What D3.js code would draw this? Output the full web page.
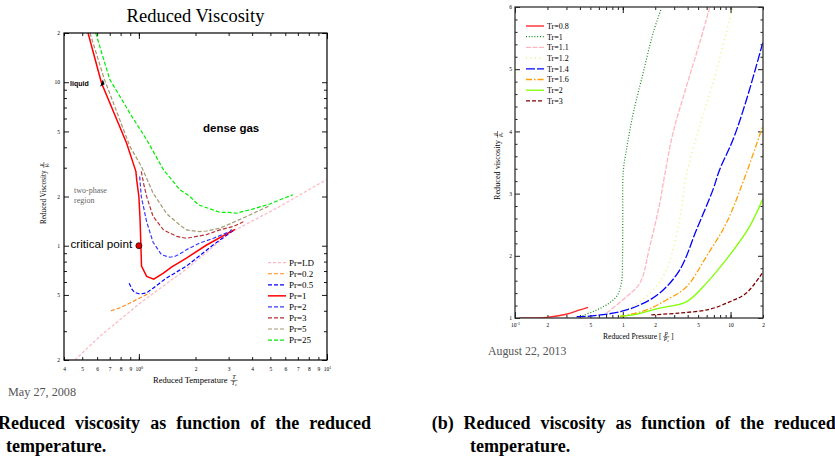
<!DOCTYPE html>
<html><head><meta charset="utf-8">
<script src="https://cdn.jsdelivr.net/npm/d3@7"></script>
<style>body{margin:0;background:#fff} svg{display:block;font-family:"Liberation Serif",serif}</style>
</head><body>
<svg id="c" width="835" height="458"></svg>
<script>
// ---------------- DATA: left panel (Reduced temperature Tr, reduced viscosity) ----------------
const prLD  = [[0.457,0.2],[0.62,0.279],[1.0,0.44],[1.79,0.72],[3.05,1.2],[5.62,1.74],[9.9,2.53]];
const pr02  = [[0.71,0.4],[0.79,0.416],[0.896,0.446],[1.01,0.479],[1.14,0.513]];
const pr05  = [[0.888,0.59],[0.92,0.54],[0.95,0.518],[1.01,0.506],[1.1,0.515],[1.19,0.55],[1.29,0.59],[1.4,0.634],[1.79,0.75],[2.45,1.0],[3.05,1.2],[3.24,1.25]];
const pr1   = [[0.537,20],[0.633,9.9],[0.86,4.25],[0.964,2.85],[0.975,2.5],[1.0,2.0],[1.015,1.44],[1.025,1.0],[1.033,0.75],[1.1,0.649],[1.2,0.625],[1.35,0.68],[1.49,0.74],[1.79,0.84],[2.29,1.01],[3.24,1.26]];
const pr2   = [[1.01,2.65],[1.02,2.3],[1.03,2.0],[1.1,1.4],[1.19,1.05],[1.32,0.88],[1.46,0.85],[1.55,0.86],[1.65,0.89],[1.79,0.945],[1.94,0.99],[2.11,1.04],[2.49,1.11],[3.05,1.22],[3.11,1.26]];
const pr3   = [[1.03,2.85],[1.06,2.4],[1.1,2.0],[1.19,1.51],[1.29,1.34],[1.35,1.25],[1.59,1.14],[1.79,1.11],[1.94,1.13],[2.29,1.17],[2.7,1.25],[3.17,1.31],[3.59,1.4]];
const pr5   = [[0.55,20],[0.652,10.6],[0.896,4.05],[1.03,3.06],[1.05,2.92],[1.19,2.1],[1.4,1.58],[1.46,1.51],[1.65,1.34],[1.79,1.25],[2.11,1.22],[2.29,1.23],[2.7,1.28],[3.74,1.51],[4.97,1.76]];
const pr25  = [[0.59,20],[0.7,10.4],[0.88,6.7],[0.9,6.4],[1.1,4.45],[1.35,2.92],[1.65,2.2],[1.87,2.0],[2.07,1.78],[2.7,1.6],[3.0,1.6],[3.3,1.58],[4.06,1.68],[4.97,1.8],[5.63,1.91],[6.6,2.05]];
const leftNames = ["Pr=LD","Pr=0.2","Pr=0.5","Pr=1","Pr=2","Pr=3","Pr=5","Pr=25"];
const criticalPoint = [1,1];

const xLTickVals   = [0.4,0.5,0.6,0.7,0.8,0.9,1,2,3,4,5,6,7,8,9,10];
const xLTickLabels = ["4","5","6","7","8","9","10^0","2","3","4","5","6","7","8","9","10^1"];
const xLMajor      = [1,10];
const yLTickVals   = [0.2,0.5,1,2,5,10,20];
const yLTickLabels = ["2","5","1","2","5","10","2"];
const yLMinor      = [0.3,0.4,0.6,0.7,0.8,0.9,3,4,6,7,8,9];

// ---------------- DATA: right panel (Reduced pressure Pr, reduced viscosity) ----------------
const tr08 = [[0.11,1.0],[0.196,1.01],[0.30,1.06],[0.40,1.13],[0.477,1.17]];
const tr1  = [[0.4,1.02],[0.657,1.18],[0.87,1.34],[0.97,1.56],[0.995,2.0],[1.0,2.6],[1.01,3.35],[1.08,3.7],[1.25,4.29],[1.54,4.93],[1.91,5.58],[2.28,5.98]];
const tr11 = [[0.706,1.08],[1.08,1.34],[1.44,1.56],[1.78,2.15],[2.2,2.84],[2.45,3.3],[2.92,3.97],[3.89,4.72],[5.16,5.42],[6.38,5.98]];
const tr12 = [[0.95,1.08],[1.4,1.25],[1.91,1.45],[2.54,1.77],[3.37,2.58],[3.89,3.3],[5.16,4.08],[6.86,4.77],[9.1,5.58],[10.5,5.98]];
const tr14 = [[0.373,1.02],[0.495,1.03],[0.94,1.1],[1.44,1.21],[2.2,1.4],[3.37,1.77],[4.81,2.41],[6.86,3.06],[7.9,3.38],[10.5,3.86],[14,4.5],[20,5.44]];
const tr16 = [[0.94,1.02],[1.66,1.13],[2.54,1.29],[3.89,1.5],[5.97,1.99],[9.1,2.52],[14,3.33],[20,4.1]];
const tr2  = [[0.94,1.03],[1.34,1.06],[2.2,1.16],[3.89,1.26],[5.97,1.56],[9.8,2.01],[15,2.47],[20,2.92]];
const tr3  = [[1.84,1.05],[3.37,1.08],[6.38,1.14],[9.8,1.26],[14,1.4],[20,1.74]];
const rightNames = ["Tr=0.8","Tr=1","Tr=1.1","Tr=1.2","Tr=1.4","Tr=1.6","Tr=2","Tr=3"];

const xRTickVals   = [0.1,0.2,0.5,1,2,5,10,20];
const xRTickLabels = ["10^-1","2","5","1","2","5","10","2"];
const xRMajor      = [0.1,1,10];
const xRMinor      = [0.3,0.4,0.6,0.7,0.8,0.9,3,4,6,7,8,9];
const yRTickVals   = [1,2,3,4,5,6];
const yRTickLabels = ["1","2","3","4","5","6"];
const yRMinor      = [1.2,1.4,1.6,1.8,2.2,2.4,2.6,2.8,3.2,3.4,3.6,3.8,4.2,4.4,4.6,4.8,5.2,5.4,5.6,5.8];

// ---------------- STYLES ----------------
const leftData = [prLD,pr02,pr05,pr1,pr2,pr3,pr5,pr25];
const leftStyle = [
  {c:"#ffb6c1",d:"3,2",w:1.2},{c:"#ff8a1c",d:"4,2",w:1.2},{c:"#0000ff",d:"4,2",w:1.2},
  {c:"#ff0000",d:null,w:1.5},{c:"#3a3aff",d:"4,2",w:1.2},{c:"#b83030",d:"4,2",w:1.2},
  {c:"#a39870",d:"4,2",w:1.2},{c:"#00ee00",d:"4,2",w:1.2}];
const rightData = [tr08,tr1,tr11,tr12,tr14,tr16,tr2,tr3];
const rightStyle = [
  {c:"#ff2a2a",d:null,w:1.4},{c:"#1f8a1f",d:"1,1.8",w:1.2},{c:"#ffb6c1",d:"5,1.5",w:1.3},
  {c:"#eeee80",d:"1,3.5",w:1.5},{c:"#0000ff",d:"9,2",w:1.3},{c:"#ffa000",d:"6,2,1.5,2",w:1.3},
  {c:"#7fff00",d:null,w:1.3},{c:"#800000",d:"4,2",w:1.3}];

const svg = d3.select("#c");
svg.append("rect").attr("width",835).attr("height",458).attr("fill","#fff");

// ---------------- helpers ----------------
function setLabel(sel, lab){
  sel.text(null);
  if (lab.includes("^")){
    const [b,s] = lab.split("^");
    sel.append("tspan").text(b);
    sel.append("tspan").attr("font-size","0.75em").attr("dy","-0.4em").text(s);
  } else sel.text(lab);
}
function frac(g, x, yBase, num, den, fs, anchorStart){
  const f = fs*0.72;
  const w = f*1.15;
  const cx = x + w/2;
  const bar = yBase - fs*0.3;
  g.append("text").attr("x",cx).attr("y",bar-1).attr("text-anchor","middle").attr("font-size",f).attr("font-style","italic").text(num);
  const dn = g.append("text").attr("x",cx).attr("y",bar+f*0.8).attr("text-anchor","middle").attr("font-size",f).attr("font-style","italic");
  dn.append("tspan").text(den);
  dn.append("tspan").attr("font-size",f*0.65).attr("dy",f*0.15).text("c");
  g.append("line").attr("x1",x).attr("x2",x+w).attr("y1",bar).attr("y2",bar).attr("stroke","#000").attr("stroke-width",0.5);
  return x + w;
}
function axisGroup(axis, tx, ty, fs){
  const g = svg.append("g").attr("transform",`translate(${tx},${ty})`).call(axis);
  g.select(".domain").remove();
  g.attr("font-family","Liberation Serif").attr("font-size",fs);
  g.selectAll(".tick line").attr("stroke","#000").attr("stroke-width",0.9);
  return g;
}

// ================= LEFT PANEL =================
const L = {x0:64,x1:327,y0:33,y1:360};
const xL = d3.scaleLog().domain([0.4,10]).range([L.x0,L.x1]);
const yL = d3.scaleLog().domain([0.2,20]).range([L.y1,L.y0]);

svg.append("text").attr("x",195.5).attr("y",22).attr("text-anchor","middle").attr("font-size",18.5).text("Reduced Viscosity");

// ticks
let g;
g = axisGroup(d3.axisBottom(xL).tickValues(xLTickVals).tickSize(-3).tickPadding(7).tickFormat(""),0,L.y1,5.5);
g.selectAll(".tick text").each(function(d,i){ setLabel(d3.select(this), xLTickLabels[i]); });
axisGroup(d3.axisBottom(xL).tickValues(xLMajor).tickSize(-6).tickFormat(""),0,L.y1,5.5);
axisGroup(d3.axisTop(xL).tickValues(xLTickVals).tickSize(-3).tickFormat(""),0,L.y0,5.5);
axisGroup(d3.axisTop(xL).tickValues(xLMajor).tickSize(-6).tickFormat(""),0,L.y0,5.5);
g = axisGroup(d3.axisLeft(yL).tickValues(yLTickVals).tickSize(-5).tickPadding(4).tickFormat((d,i)=>yLTickLabels[i]),L.x0,0,5.5);
axisGroup(d3.axisLeft(yL).tickValues(yLMinor).tickSize(-3).tickFormat(""),L.x0,0,5.5);
axisGroup(d3.axisRight(yL).tickValues(yLTickVals).tickSize(-5).tickFormat(""),L.x1,0,5.5);
axisGroup(d3.axisRight(yL).tickValues(yLMinor).tickSize(-3).tickFormat(""),L.x1,0,5.5);

svg.append("clipPath").attr("id","clipL").append("rect").attr("x",L.x0).attr("y",L.y0).attr("width",L.x1-L.x0).attr("height",L.y1-L.y0);
const lineL = d3.line().x(d=>xL(d[0])).y(d=>yL(d[1]));
const gl = svg.append("g").attr("clip-path","url(#clipL)");
leftData.forEach((s,i)=>{
  gl.append("path").attr("d",lineL(s)).attr("fill","none").attr("stroke",leftStyle[i].c)
    .attr("stroke-width",leftStyle[i].w).attr("stroke-dasharray",leftStyle[i].d);
});
svg.append("rect").attr("x",L.x0).attr("y",L.y0).attr("width",L.x1-L.x0).attr("height",L.y1-L.y0)
  .attr("fill","none").attr("stroke","#000").attr("stroke-width",1.2);

// annotations
svg.append("circle").attr("cx",xL(criticalPoint[0])).attr("cy",yL(criticalPoint[1])).attr("r",3)
  .attr("fill","#e00000").attr("stroke","#300").attr("stroke-width",0.8);
svg.append("text").attr("x",70.5).attr("y",247.5).attr("font-family","Liberation Sans").attr("font-size",11.7).text("critical point");
svg.append("text").attr("x",203).attr("y",132).attr("font-family","Liberation Sans").attr("font-weight","bold").attr("font-size",11.5).text("dense gas");
svg.append("text").attr("x",70).attr("y",86).attr("font-family","Liberation Sans").attr("font-weight","bold").attr("font-size",7).text("liquid");
svg.append("path").attr("d","M100.2,86.5 L102.8,79.5 L104.6,84.2 Z").attr("fill","#000");
svg.append("text").attr("x",74).attr("y",193).attr("font-size",8).attr("fill","#666").text("two-phase");
svg.append("text").attr("x",74).attr("y",202.5).attr("font-size",8).attr("fill","#666").text("region");

// legend
leftNames.forEach((n,i)=>{
  const y = 262.7 + i*11.05;
  svg.append("line").attr("x1",268).attr("x2",286).attr("y1",y).attr("y2",y)
    .attr("stroke",leftStyle[i].c).attr("stroke-width",leftStyle[i].w).attr("stroke-dasharray",leftStyle[i].d);
  svg.append("text").attr("x",289).attr("y",y+3).attr("font-size",9).text(n);
});

// axis labels
{
  const t = svg.append("text").attr("x",153).attr("y",383).attr("font-size",8.5).text("Reduced Temperature");
  const w = t.node().getComputedTextLength();
  frac(svg, 153+w+3, 383, "T", "T", 8.5);
  const gy = svg.append("g").attr("transform","translate(46,224) rotate(-90)");
  const ty = gy.append("text").attr("x",0).attr("y",0).attr("font-size",7.2).text("Reduced Viscosity");
  const wy = ty.node().getComputedTextLength();
  frac(gy, wy+2.5, 0, "\u03BC", "\u03BC", 7.2);
}
svg.append("text").attr("x",8).attr("y",396).attr("font-size",12.2).attr("fill","#555").text("May 27, 2008");

// ================= RIGHT PANEL =================
const R = {x0:515,x1:763,y0:7,y1:318};
const xR = d3.scaleLog().domain([0.1,20]).range([R.x0,R.x1]);
const yR = d3.scaleLinear().domain([1,6]).range([R.y1,R.y0]);

g = axisGroup(d3.axisBottom(xR).tickValues(xRTickVals).tickSize(-3).tickPadding(5).tickFormat(""),0,R.y1,5.5);
g.selectAll(".tick text").each(function(d,i){ setLabel(d3.select(this), xRTickLabels[i]); });
axisGroup(d3.axisBottom(xR).tickValues(xRMajor).tickSize(-6).tickFormat(""),0,R.y1,5.5);
axisGroup(d3.axisBottom(xR).tickValues(xRMinor).tickSize(-3).tickFormat(""),0,R.y1,5.5);
axisGroup(d3.axisTop(xR).tickValues(xRTickVals).tickSize(-3).tickFormat(""),0,R.y0,5.5);
axisGroup(d3.axisTop(xR).tickValues(xRMajor).tickSize(-6).tickFormat(""),0,R.y0,5.5);
axisGroup(d3.axisTop(xR).tickValues(xRMinor).tickSize(-3).tickFormat(""),0,R.y0,5.5);
axisGroup(d3.axisLeft(yR).tickValues(yRTickVals).tickSize(-5).tickPadding(3).tickFormat((d,i)=>yRTickLabels[i]),R.x0,0,5.5);
axisGroup(d3.axisLeft(yR).tickValues(yRMinor).tickSize(-2.5).tickFormat(""),R.x0,0,5.5);
axisGroup(d3.axisRight(yR).tickValues(yRTickVals).tickSize(-5).tickFormat(""),R.x1,0,5.5);
axisGroup(d3.axisRight(yR).tickValues(yRMinor).tickSize(-2.5).tickFormat(""),R.x1,0,5.5);

svg.append("clipPath").attr("id","clipR").append("rect").attr("x",R.x0).attr("y",R.y0).attr("width",R.x1-R.x0).attr("height",R.y1-R.y0);
const lineR = d3.line().x(d=>xR(d[0])).y(d=>yR(d[1])).curve(d3.curveCatmullRom.alpha(0.5));
const gr = svg.append("g").attr("clip-path","url(#clipR)");
rightData.forEach((s,i)=>{
  gr.append("path").attr("d",lineR(s)).attr("fill","none").attr("stroke",rightStyle[i].c)
    .attr("stroke-width",rightStyle[i].w).attr("stroke-dasharray",rightStyle[i].d);
});
svg.append("rect").attr("x",R.x0).attr("y",R.y0).attr("width",R.x1-R.x0).attr("height",R.y1-R.y0)
  .attr("fill","none").attr("stroke","#333").attr("stroke-width",1.3);

rightNames.forEach((n,i)=>{
  const y = 26 + i*10.7;
  svg.append("line").attr("x1",526).attr("x2",544).attr("y1",y).attr("y2",y)
    .attr("stroke",rightStyle[i].c).attr("stroke-width",rightStyle[i].w).attr("stroke-dasharray",rightStyle[i].d);
  svg.append("text").attr("x",547).attr("y",y+2.8).attr("font-size",8).text(n);
});

{
  const t = svg.append("text").attr("x",603).attr("y",339).attr("font-size",7.6).text("Reduced Pressure [");
  const w = t.node().getComputedTextLength();
  const e = frac(svg, 603+w+1.5, 339, "P", "P", 7.6);
  svg.append("text").attr("x",e+1.5).attr("y",339).attr("font-size",7.6).text("]");
  const gy = svg.append("g").attr("transform","translate(500,200) rotate(-90)");
  const ty = gy.append("text").attr("x",0).attr("y",0).attr("font-size",8.2).text("Reduced viscosity");
  const wy = ty.node().getComputedTextLength();
  frac(gy, wy+2.5, 0, "\u03BC", "\u03BC", 8.2);
}
svg.append("text").attr("x",488).attr("y",355).attr("font-size",11.8).attr("fill","#555").text("August 22, 2013");

// ================= CAPTIONS =================
function caption(x, line1, line2, x2){
  const t = svg.append("text").attr("x",x).attr("y",429).attr("font-size",18).attr("font-weight","bold").text(line1);
  const w = t.node().getComputedTextLength();
  const nSp = line1.split(" ").length-1;
  t.attr("word-spacing",(404-w)/nSp);
  svg.append("text").attr("x",x2).attr("y",451.5).attr("font-size",18).attr("font-weight","bold").text(line2);
}
caption(-33,"(a) Reduced viscosity as function of the reduced","temperature.",6);
caption(431.7,"(b) Reduced viscosity as function of the reduced","temperature.",470);
</script></body></html>
